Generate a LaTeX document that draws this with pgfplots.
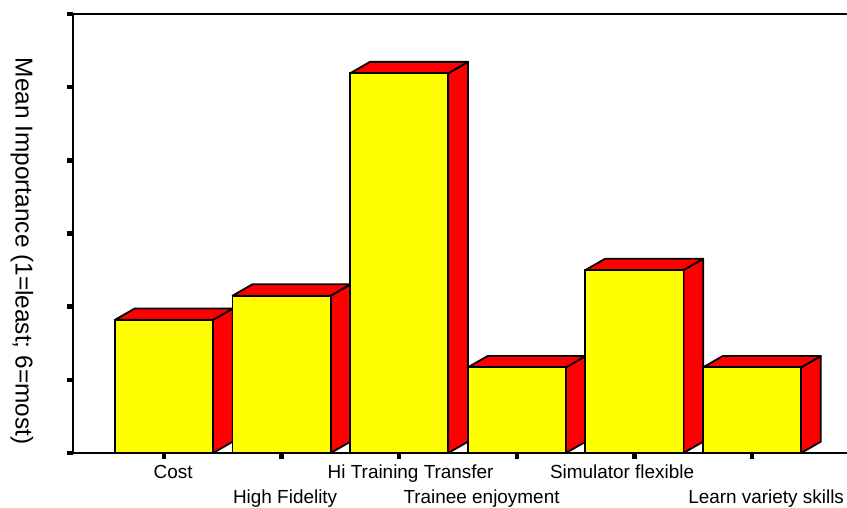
\documentclass[border=0pt]{standalone}
\usepackage{pgfplots}
\pgfplotsset{compat=1.18}
\usepackage{pgfplotstable}
\usepackage{fontspec}
\setmainfont{Liberation Sans}

\definecolor{barfront}{RGB}{255,255,0}
\definecolor{barside}{RGB}{255,0,0}

% mean importance per criterion (1 = least, 6 = most)
\pgfplotstableread{
x v
0 1.82
1 2.15
2 5.19
3 1.17
4 2.50
5 1.17
}\importance

\newcommand{\lblfont}{\fontsize{19}{22}\selectfont}

\begin{document}
\begin{tikzpicture}
\path[use as bounding box, clip] (0bp,0bp) rectangle (847bp,508bp);
\begin{axis}[
  at={(73bp,55bp)}, anchor=south west,
  scale only axis,
  x=117.6bp, y=73.17bp,
  xmin=-0.774, xmax=6.2, ymin=0, ymax=6,
  clip=false,
  axis line style={line width=2bp, black},
  xtick={0,...,5}, xticklabels={},
  ytick={0,...,6}, yticklabels={},
  xtick pos=bottom, ytick pos=left,
  tick align=outside,
  major tick length=6bp,
  every tick/.style={line width=4.5bp, black},
  ylabel={Mean Importance (1=least; 6=most)},
  every axis y label/.style={at={(rel axis cs:0,0.46)}, xshift=-51bp, anchor=center, rotate=-90, font=\fontsize{24.5}{28}\selectfont},
]
% depth faces (right side and top) of each bar
\pgfplotsforeachungrouped \i in {0,...,5}{%
  \pgfplotstablegetelem{\i}{x}\of\importance \let\bx\pgfplotsretval
  \pgfplotstablegetelem{\i}{v}\of\importance \let\bv\pgfplotsretval
  \pgfmathsetmacro\xa{\bx+0.417}
  \pgfmathsetmacro\xb{\bx+0.417+0.168}
  \pgfmathsetmacro\xc{\bx-0.417}
  \pgfmathsetmacro\xd{\bx-0.417+0.168}
  \pgfmathsetmacro\vb{\bv+0.155}
  \edef\doface{%
    \noexpand\addplot[fill=barside, draw=black, line width=1.8bp, line join=round]
      coordinates {(\xa,0) (\xb,0.155) (\xb,\vb) (\xa,\bv)} -- cycle;
    \noexpand\addplot[fill=barside, draw=black, line width=1.8bp, line join=round]
      coordinates {(\xc,\bv) (\xa,\bv) (\xb,\vb) (\xd,\vb)} -- cycle;
  }\doface
}
% front faces
\addplot[ybar, bar width=0.834, bar shift=0pt, fill=barfront, draw=black, line width=1.8bp]
  table[x=x, y=v]{\importance};

% category names, staggered on two rows
\node[anchor=base, font=\lblfont] at (axis cs:0.077,0)  [yshift=-25bp] {Cost};
\node[anchor=base, font=\lblfont] at (axis cs:1.030,0)  [yshift=-50bp] {High Fidelity};
\node[anchor=base, font=\lblfont] at (axis cs:2.097,0)  [yshift=-25bp] {Hi Training Transfer};
\node[anchor=base, font=\lblfont] at (axis cs:2.700,0)  [yshift=-50bp] {Trainee enjoyment};
\node[anchor=base, font=\lblfont] at (axis cs:3.895,0)  [yshift=-25bp] {Simulator flexible};
\node[anchor=base, font=\lblfont] at (axis cs:5.12,0)   [yshift=-50bp] {Learn variety skills};
\end{axis}
\end{tikzpicture}
\end{document}
